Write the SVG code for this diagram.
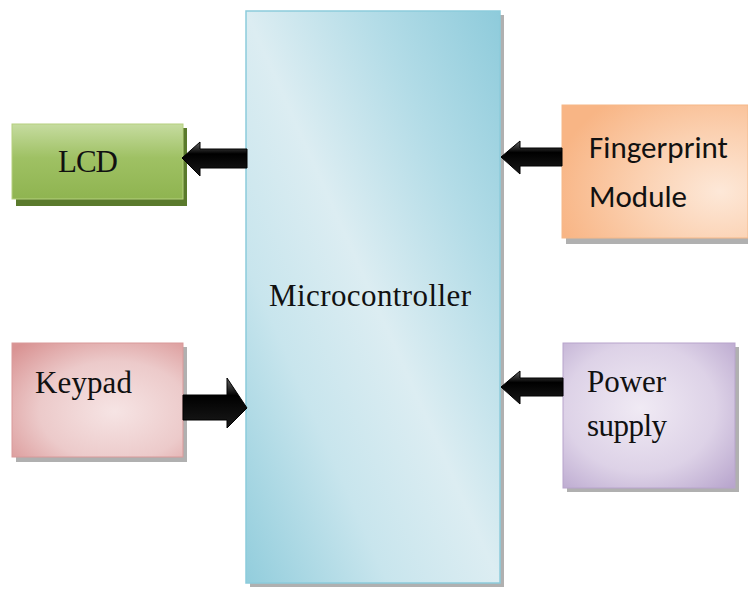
<svg xmlns="http://www.w3.org/2000/svg" width="748" height="590" viewBox="0 0 748 590">
<defs>
<linearGradient id="gMc" x1="1" y1="0" x2="0" y2="1">
<stop offset="0" stop-color="#8ecbdb"/><stop offset="0.25" stop-color="#b3dce7"/><stop offset="0.5" stop-color="#dcedf2"/><stop offset="0.72" stop-color="#c8e5ed"/><stop offset="1" stop-color="#92cddc"/>
</linearGradient>
<linearGradient id="gLcd" x1="0" y1="0" x2="0" y2="1">
<stop offset="0" stop-color="#c6dca0"/><stop offset="0.45" stop-color="#9fc164"/><stop offset="1" stop-color="#8fb450"/>
</linearGradient>
<radialGradient id="gFp" cx="0.85" cy="0.65" r="0.9">
<stop offset="0" stop-color="#fde8d8"/><stop offset="0.5" stop-color="#fbd0b0"/><stop offset="1" stop-color="#f8b585"/>
</radialGradient>
<radialGradient id="gKp" cx="0.6" cy="0.6" r="0.8">
<stop offset="0" stop-color="#f6e4e4"/><stop offset="0.55" stop-color="#eccaca"/><stop offset="1" stop-color="#d99393"/>
</radialGradient>
<radialGradient id="gPs" cx="0.45" cy="0.45" r="0.8">
<stop offset="0" stop-color="#f0eaf4"/><stop offset="0.55" stop-color="#ddd2e7"/><stop offset="1" stop-color="#b4a0ca"/>
</radialGradient>
<linearGradient id="gArr" x1="0" y1="0" x2="0" y2="1">
<stop offset="0" stop-color="#666"/><stop offset="0.35" stop-color="#000"/><stop offset="1" stop-color="#1a1a1a"/>
</linearGradient>
</defs>
<style>
.shadow{fill:#8f8f8f;opacity:0.7}
.serif{font-family:"Liberation Serif","Times New Roman",serif;font-size:31px;fill:#111}
.sans{font-family:Carlito,"Liberation Sans",Arial,sans-serif;font-size:31px;fill:#111}
.arrow{fill:url(#gArr);stroke:#000;stroke-width:1}
</style>
<rect width="748" height="590" fill="#ffffff"/>

<g id="microcontroller">
<rect class="shadow" x="250" y="15" width="254" height="572"/>
<rect x="246" y="11" width="254" height="572" fill="url(#gMc)" stroke="#8ccbdb" stroke-width="1.5"/>
<text class="serif" x="269" y="306" textLength="202">Microcontroller</text>
</g>

<g id="lcd">
<rect x="16" y="128" width="171" height="78" fill="#5a7a2c"/>
<rect x="12" y="124" width="171" height="75" fill="url(#gLcd)" stroke="#b5d07f" stroke-width="1"/>
<text class="serif" x="58" y="172" textLength="60">LCD</text>
</g>

<g id="fingerprint">
<rect class="shadow" x="566" y="109" width="182" height="135"/>
<rect x="562" y="105" width="186" height="133" fill="url(#gFp)" stroke="#f5b888" stroke-width="1"/>
<text class="sans" x="589" y="158" textLength="139">Fingerprint</text>
<text class="sans" x="589" y="207">Module</text>
</g>

<g id="keypad">
<rect class="shadow" x="16" y="347" width="171" height="115"/>
<rect x="12" y="343" width="171" height="114" fill="url(#gKp)" stroke="#d99a9a" stroke-width="1"/>
<text class="serif" x="35" y="393" textLength="97">Keypad</text>
</g>

<g id="power">
<rect class="shadow" x="567" y="347" width="172" height="145"/>
<rect x="563" y="343" width="172" height="145" fill="url(#gPs)" stroke="#b8a4cc" stroke-width="1"/>
<text class="serif" x="587" y="392" textLength="79">Power</text>
<text class="serif" x="587" y="436" textLength="80">supply</text>
</g>

<g id="connectors">
<polygon class="arrow" points="247,149 200,149 200,142 182,158 200,176 200,168 247,168"/>
<polygon class="arrow" points="562,148 520,148 520,141 501,157 520,174 520,166 562,166"/>
<polygon class="arrow" points="183,395 227,395 227,378 247,408 227,428 227,420 183,420"/>
<polygon class="arrow" points="563,378 520,378 520,371 501,387 520,404 520,396 563,396"/>
</g>
</svg>
